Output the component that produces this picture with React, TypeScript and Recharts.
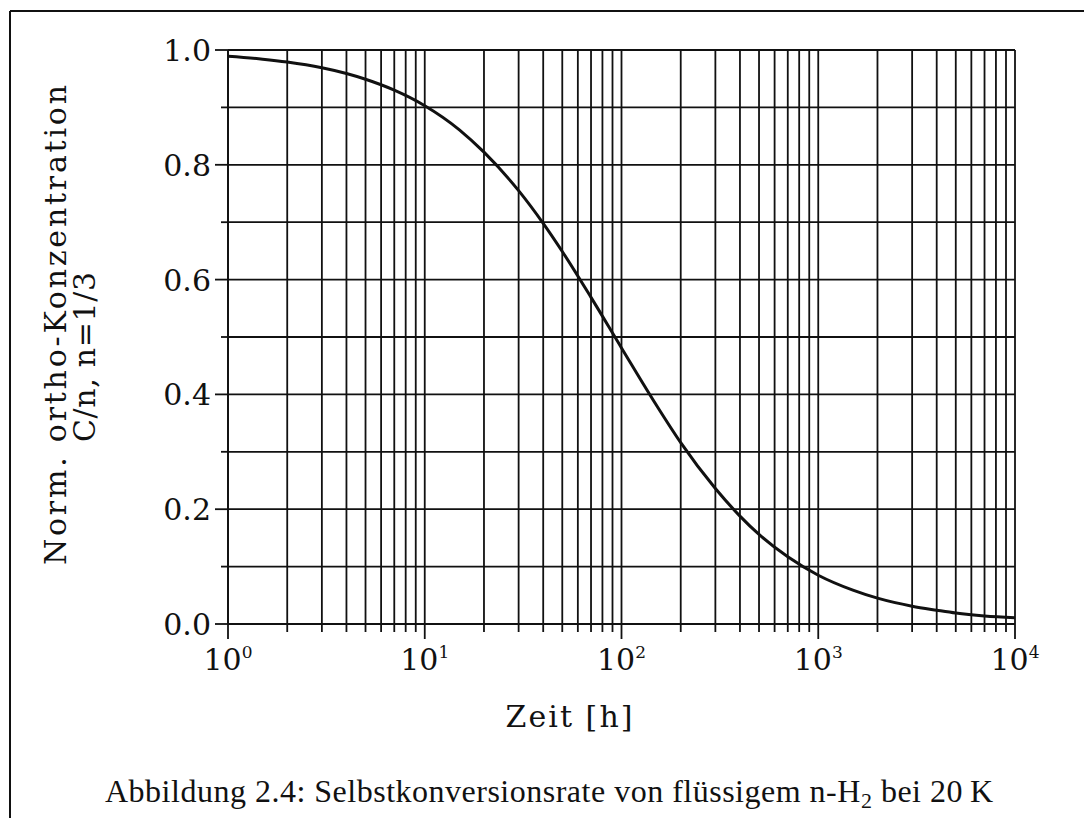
import React from "react";
import { LineChart, Line, XAxis, YAxis, CartesianGrid, Customized } from "recharts";

// time in hours
const timeHours = [1, 1.5, 2, 3, 4, 5, 7, 10, 15, 20, 30, 40, 50, 70, 100, 150, 200, 300, 400, 500, 700, 1000, 1500, 2000, 3000, 4000, 5000, 7000, 10000];
// normalised ortho concentration C/n
const orthoConc = [0.989, 0.984, 0.979, 0.969, 0.959, 0.949, 0.93, 0.903, 0.861, 0.822, 0.755, 0.698, 0.649, 0.569, 0.481, 0.382, 0.316, 0.236, 0.188, 0.156, 0.117, 0.085, 0.059, 0.045, 0.031, 0.024, 0.019, 0.014, 0.011];

const xTickValues = [
  1, 2, 3, 4, 5, 6, 7, 8, 9,
  10, 20, 30, 40, 50, 60, 70, 80, 90,
  100, 200, 300, 400, 500, 600, 700, 800, 900,
  1000, 2000, 3000, 4000, 5000, 6000, 7000, 8000, 9000,
  10000,
];
const yTickValues = [0, 0.1, 0.2, 0.3, 0.4, 0.5, 0.6, 0.7, 0.8, 0.9, 1.0];

const xAxisTitle = "Zeit [h]";
const yAxisTitle1 = "Norm. ortho-Konzentration";
const yAxisTitle2 = "C/n, n=1/3";
const captionPre = "Abbildung 2.4: Selbstkonversionsrate von flüssigem n-H";
const captionSub = "2";
const captionPost = " bei 20\u2009K";

const data = timeHours.map((t, i) => ({ t, c: orthoConc[i] }));

const INK = "#111";
const TICK_FONT = "'DejaVu Serif', serif";

const XTick = (props: any) => {
  const { x, y, payload } = props;
  const v = payload.value as number;
  const exp = Math.round(Math.log10(v));
  const isDecade = Math.abs(v - Math.pow(10, exp)) < 1e-6;
  return (
    <g>
      <line x1={x} y1={y} x2={x} y2={y + (isDecade ? 15 : 8)} stroke={INK} strokeWidth={1.8} />
      {isDecade && (
        <text x={x} y={y + 46} textAnchor="middle" fontFamily={TICK_FONT} fontSize={30} fill={INK}>
          10
          <tspan dy={-12} fontSize={17}>{exp}</tspan>
        </text>
      )}
    </g>
  );
};

const YTick = (props: any) => {
  const { x, y, payload } = props;
  const v = payload.value as number;
  const labeled = Math.round(v * 10) % 2 === 0;
  return (
    <g>
      <line x1={x - (labeled ? 13 : 7)} y1={y} x2={x} y2={y} stroke={INK} strokeWidth={1.8} />
      {labeled && (
        <text x={x - 17} y={y + 11} textAnchor="end" fontFamily={TICK_FONT} fontSize={30} fill={INK}>
          {v.toFixed(1)}
        </text>
      )}
    </g>
  );
};

const Decor = () => (
  <g>
    {/* figure frame */}
    <line x1={10} y1={11} x2={1084} y2={11} stroke={INK} strokeWidth={2} />
    <line x1={10} y1={11} x2={10} y2={818} stroke={INK} strokeWidth={2} />
    {/* axis titles */}
    <text x={569} y={727} textAnchor="middle" fontFamily={TICK_FONT} fontSize={30} fill={INK} textLength={127} lengthAdjust="spacing">
      {xAxisTitle}
    </text>
    <text x={66} y={325} transform="rotate(-90 66 325)" textAnchor="middle" fontFamily={TICK_FONT} fontSize={30} fill={INK} textLength={480} lengthAdjust="spacing">
      {yAxisTitle1}
    </text>
    <text x={95} y={357} transform="rotate(-90 95 357)" textAnchor="middle" fontFamily={TICK_FONT} fontSize={30} fill={INK} textLength={170} lengthAdjust="spacing">
      {yAxisTitle2}
    </text>
    {/* caption */}
    <text x={549} y={802} textAnchor="middle" fontFamily="'Liberation Serif', serif" fontSize={32} fill={INK} textLength={888} lengthAdjust="spacing">
      {captionPre}
      <tspan fontSize={22} dy={6}>{captionSub}</tspan>
      <tspan dy={-6}>{captionPost}</tspan>
    </text>
  </g>
);

export default function App() {
  return (
    <div style={{ position: "absolute", left: 0, top: 0, width: 1084, height: 818, background: "#fff" }}>
      <LineChart width={1084} height={818} data={data} margin={{ top: 50, right: 69, bottom: 0, left: 0 }}>
        <CartesianGrid stroke={INK} strokeWidth={1.8} />
        <XAxis
          dataKey="t"
          type="number"
          scale="log"
          domain={[1, 10000]}
          ticks={xTickValues}
          interval={0}
          allowDataOverflow
          height={194}
          tickSize={0}
          tickMargin={0}
          tickLine={false}
          tick={<XTick />}
          axisLine={{ stroke: INK, strokeWidth: 1.8 }}
        />
        <YAxis
          type="number"
          domain={[0, 1]}
          ticks={yTickValues}
          interval={0}
          width={228}
          tickSize={0}
          tickMargin={0}
          tickLine={false}
          tick={<YTick />}
          axisLine={{ stroke: INK, strokeWidth: 1.8 }}
        />
        <Line dataKey="c" type="monotone" stroke={INK} strokeWidth={3} dot={false} isAnimationActive={false} />
        <Customized component={Decor} />
      </LineChart>
    </div>
  );
}
